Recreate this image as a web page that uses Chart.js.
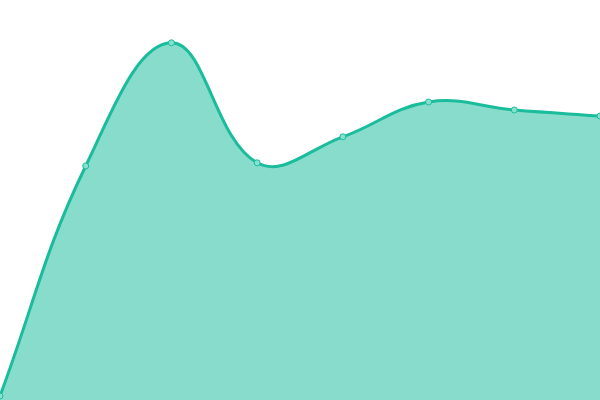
<!DOCTYPE html>
<html>
<head>
<meta charset="utf-8">
<script src="https://cdn.jsdelivr.net/npm/chart.js@4"></script>
<style>
  html, body { margin: 0; padding: 0; background: #fff; }
  #wrap { width: 600px; height: 400px; }
</style>
</head>
<body>
<div id="wrap"><canvas id="myChart"></canvas></div>
<script>
var labels = ['1', '2', '3', '4', '5', '6', '7', '8'];
var values = [1, 58.5, 89.3, 59.3, 65.8, 74.5, 72.5, 71];
var yMin = 0;
var yMax = 100;

var data = {
  labels: labels,
  datasets: [
    {
      fill: true,
      backgroundColor: 'rgba(26,188,156,0.52)',
      borderColor: 'rgba(26,188,156,1)',
      borderWidth: 3,
      tension: 0.4,
      pointRadius: 3,
      pointBorderWidth: 1,
      pointBackgroundColor: 'rgba(136,224,207,1)',
      pointBorderColor: 'rgba(26,188,156,1)',
      data: values
    }
  ]
};

// config - no auto padding, the plot runs edge to edge
var config = {
  type: 'line',
  data: data,
  options: {
    animation: false,
    responsive: true,
    maintainAspectRatio: false,
    layout: { padding: 0, autoPadding: false },
    plugins: {
      legend: { display: false },
      tooltip: { enabled: false }
    },
    scales: {
      x: { display: false },
      y: { display: false, min: yMin, max: yMax }
    }
  }
};

var myChart = new Chart(document.getElementById('myChart'), config);
</script>
</body>
</html>
